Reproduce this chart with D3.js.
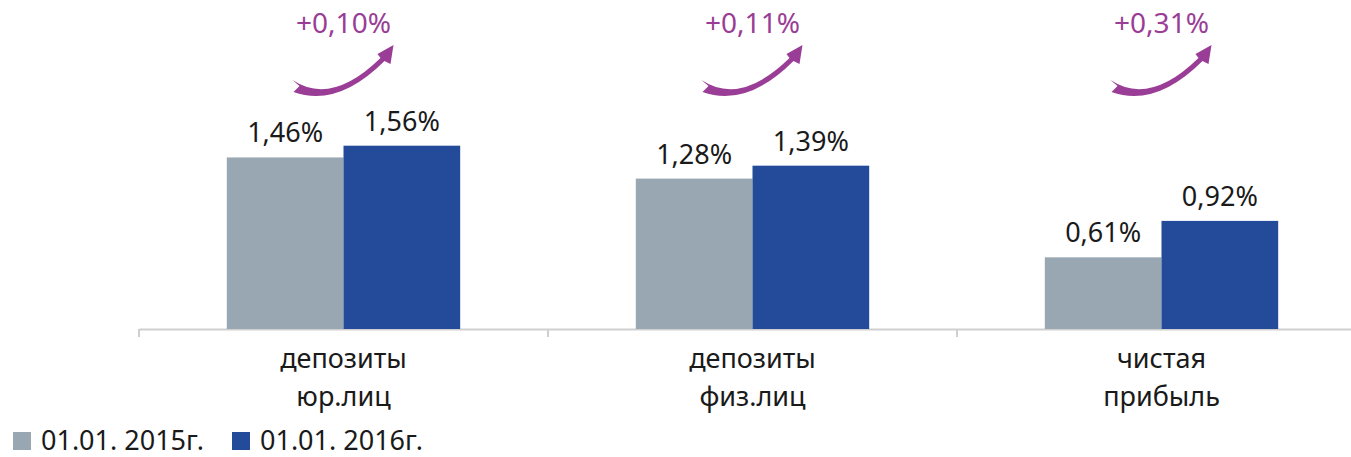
<!DOCTYPE html>
<html>
<head>
<meta charset="utf-8">
<script src="https://cdn.jsdelivr.net/npm/d3@7"></script>
<style>
  html, body { margin: 0; padding: 0; background: #fff; }
  svg { display: block; font-family: "Noto Sans", sans-serif; }
</style>
</head>
<body>
<div id="chart"></div>
<script>
// data
const categories = ["депозиты юр.лиц", "депозиты физ.лиц", "чистая прибыль"];
const categoryLines = [["депозиты", "юр.лиц"], ["депозиты", "физ.лиц"], ["чистая", "прибыль"]];
const seriesNames = ["01.01. 2015г.", "01.01. 2016г."];
const values2015 = [1.46, 1.28, 0.61];
const values2016 = [1.56, 1.39, 0.92];
const deltaLabels = ["+0,10%", "+0,11%", "+0,31%"];

const colors = ["#98a7b1", "#244a9a"];
const purple = "#9a3d96";

const width = 1351, height = 457;
const baseline = 329;

const ru = d3.formatLocale({ decimal: ",", thousands: " ", grouping: [3], currency: ["", ""] });
const fmt = v => ru.format(".2f")(v) + "%";

const rows = categories.map((c, i) => ({
  cat: c,
  vals: [values2015[i], values2016[i]]
}));

const x0 = d3.scaleBand().domain(categories).range([139, 1366]).padding(0);
const x1 = d3.scaleBand().domain(seriesNames).range([0, x0.bandwidth()])
  .paddingInner(0).paddingOuter(0.7525);
const y = d3.scaleLinear().domain([0, 2]).range([baseline, baseline - 235]);

const svg = d3.select("#chart").append("svg")
  .attr("width", width)
  .attr("height", height);

// axis line with ticks between the groups
const xAxis = d3.axisBottom(x0).tickSize(0).tickFormat("");
const axisG = svg.append("g")
  .attr("transform", "translate(0," + baseline + ")")
  .call(xAxis);
axisG.select(".domain").attr("stroke", "#cfcfcf").attr("stroke-width", 2);
axisG.selectAll(".tick").remove();
axisG.selectAll(".sep")
  .data(categories)
  .join("line")
  .attr("class", "sep")
  .attr("x1", d => x0(d)).attr("x2", d => x0(d))
  .attr("y1", 0).attr("y2", 8)
  .attr("stroke", "#cfcfcf")
  .attr("stroke-width", 2);

// bars
const group = svg.selectAll(".grp")
  .data(rows)
  .join("g")
  .attr("class", "grp")
  .attr("transform", d => "translate(" + x0(d.cat) + ",0)");

group.selectAll("rect")
  .data(d => d.vals.map((v, j) => ({ key: seriesNames[j], v: v, j: j })))
  .join("rect")
  .attr("x", d => x1(d.key))
  .attr("y", d => y(d.v))
  .attr("width", x1.bandwidth())
  .attr("height", d => baseline - y(d.v))
  .attr("fill", d => colors[d.j]);

group.selectAll(".val")
  .data(d => d.vals.map((v, j) => ({ key: seriesNames[j], v: v })))
  .join("text")
  .attr("class", "val")
  .attr("x", d => x1(d.key) + x1.bandwidth() / 2)
  .attr("y", d => y(d.v) - 15)
  .attr("text-anchor", "middle")
  .attr("font-size", 27)
  .attr("fill", "#1a1a1a")
  .text(d => fmt(d.v));

// category labels
group.each(function (d, i) {
  const t = d3.select(this).append("text")
    .attr("text-anchor", "middle")
    .attr("font-size", 27)
    .attr("fill", "#1a1a1a");
  categoryLines[i].forEach((line, k) => {
    t.append("tspan")
      .attr("x", x0.bandwidth() / 2)
      .attr("y", 368 + k * 38)
      .text(line);
  });
});

// curved arrows with delta labels
const arrowPath = "M -51,80 Q -12,106 37,58 L 34,54 L 50,45 L 47,64 L 41,61 Q -6,108 -50,92 L -44,86 Z";
const deltas = svg.selectAll(".delta")
  .data(categories)
  .join("g")
  .attr("class", "delta")
  .attr("transform", d => "translate(" + (x0(d) + x0.bandwidth() / 2) + ",0)");

deltas.append("path")
  .attr("d", arrowPath)
  .attr("fill", purple);

deltas.append("text")
  .attr("x", 0)
  .attr("y", 33)
  .attr("text-anchor", "middle")
  .attr("font-size", 28)
  .attr("fill", purple)
  .text((d, i) => deltaLabels[i]);

// legend
const legendX = [13, 232];
const legend = svg.selectAll(".leg")
  .data(seriesNames)
  .join("g")
  .attr("class", "leg")
  .attr("transform", (d, i) => "translate(" + legendX[i] + ",432)");

legend.append("rect")
  .attr("width", 18)
  .attr("height", 18)
  .attr("fill", (d, i) => colors[i]);

legend.append("text")
  .attr("x", 28)
  .attr("y", 18)
  .attr("font-size", 27)
  .attr("fill", "#1a1a1a")
  .text(d => d);
</script>
</body>
</html>
